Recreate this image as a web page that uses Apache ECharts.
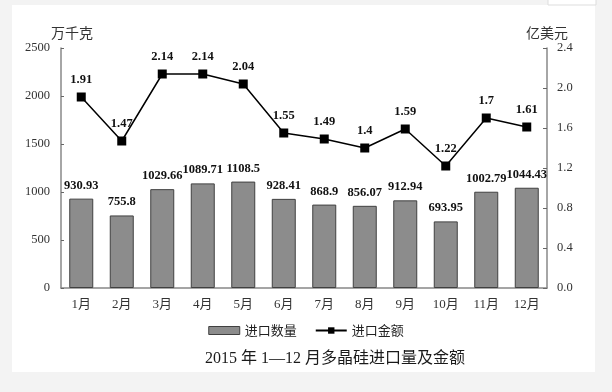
<!DOCTYPE html>
<html><head><meta charset="utf-8">
<script src="https://cdn.jsdelivr.net/npm/echarts@6/dist/echarts.min.js"></script>
<style>html,body{margin:0;padding:0;background:#f3f3f3;}#c{width:612px;height:392px;}</style>
</head><body><div id="c"></div>
<script>
const categories = ['1月','2月','3月','4月','5月','6月','7月','8月','9月','10月','11月','12月'];
const quantity = [930.93, 755.8, 1029.66, 1089.71, 1108.5, 928.41, 868.9, 856.07, 912.94, 693.95, 1002.79, 1044.43];
const amount = [1.91, 1.47, 2.14, 2.14, 2.04, 1.55, 1.49, 1.4, 1.59, 1.22, 1.7, 1.61];
const seriesNames = ['进口数量', '进口金额'];
const leftAxisName = '万千克';
const rightAxisName = '亿美元';
const titleText = '2015 年 1—12 月多晶硅进口量及金额';

const serif = '"Liberation Serif", "Noto Sans CJK SC", serif';
const cjk = '"Noto Sans CJK SC", sans-serif';
const chart = echarts.init(document.getElementById('c'), null, {renderer: 'canvas'});
chart.setOption({
  backgroundColor: '#f3f3f3',
  animation: false,
  graphic: [
    {type: 'rect', z: -10, shape: {x: 12, y: 5, width: 583, height: 367}, style: {fill: '#ffffff'}},
    {type: 'rect', z: -10, shape: {x: 548, y: -2, width: 48, height: 7}, style: {fill: '#ffffff', stroke: '#dddddd', lineWidth: 1}},
    {type: 'text', left: 205, top: 351, style: {text: titleText, font: '16px ' + serif, fill: '#1a1a1a'}}
  ],
  grid: {left: 61, right: 65, top: 48, bottom: 104},
  legend: {
    bottom: 50, left: 'center', itemGap: 18, itemWidth: 31, itemHeight: 8,
    textStyle: {fontSize: 13, color: '#222', fontFamily: cjk},
    data: [
      {name: seriesNames[0], icon: 'rect', itemStyle: {color: '#8c8c8c', borderColor: '#404040', borderWidth: 1}},
      {name: seriesNames[1]}
    ]
  },
  xAxis: {
    type: 'category', data: categories,
    axisLine: {lineStyle: {color: '#888', width: 1.5}},
    axisTick: {inside: true, length: 4, lineStyle: {color: '#666'}},
    axisLabel: {color: '#333', fontSize: 13, fontFamily: serif, margin: 10}
  },
  yAxis: [
    {
      type: 'value', min: 0, max: 2500, interval: 500,
      name: leftAxisName, nameGap: 8, nameTextStyle: {color: '#333', fontSize: 14, fontFamily: cjk, align: 'center', padding: [0, 0, 0, 22]},
      axisLine: {show: true, lineStyle: {color: '#888', width: 1.5}},
      axisTick: {show: true, inside: true, length: 3, lineStyle: {color: '#666'}},
      splitLine: {show: false},
      axisLabel: {color: '#333', fontSize: 12.5, fontFamily: serif, margin: 11, formatter: v => String(v)}
    },
    {
      type: 'value', min: 0, max: 2.4, interval: 0.4,
      name: rightAxisName, nameGap: 8, nameTextStyle: {color: '#333', fontSize: 14, fontFamily: cjk, align: 'center'},
      axisLine: {show: true, lineStyle: {color: '#888', width: 1.5}},
      axisTick: {show: true, inside: true, length: 4, lineStyle: {color: '#666'}},
      splitLine: {show: false},
      axisLabel: {color: '#333', fontSize: 12.5, fontFamily: serif, margin: 10, formatter: v => v.toFixed(1)}
    }
  ],
  series: [
    {
      name: seriesNames[0], type: 'bar', data: quantity, barWidth: 24,
      itemStyle: {color: '#8c8c8c', borderColor: '#404040', borderWidth: 1},
      label: {show: true, position: 'top', distance: 7, color: '#111', fontSize: 12.5, fontWeight: 'bold', fontFamily: serif}
    },
    {
      name: seriesNames[1], type: 'line', yAxisIndex: 1, data: amount,
      symbol: 'rect', symbolSize: 9,
      lineStyle: {color: '#000', width: 1.5},
      itemStyle: {color: '#000'},
      label: {show: true, position: 'top', distance: 6, color: '#111', fontSize: 12.5, fontWeight: 'bold', fontFamily: serif}
    }
  ]
});
</script></body></html>
